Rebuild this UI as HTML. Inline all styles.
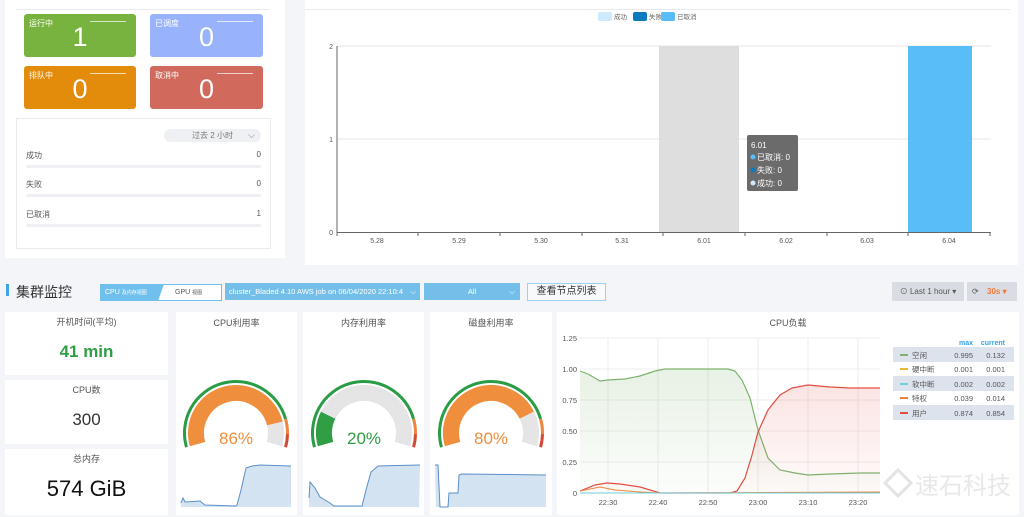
<!DOCTYPE html>
<html><head><meta charset="utf-8"><style>
body{margin:0;width:1024px;height:517px;background:#f3f5f8;font-family:"Liberation Sans","Noto Sans CJK SC",sans-serif;position:relative;overflow:hidden}
.a{position:absolute}
.card{position:absolute;color:#fff;border-radius:3px}
.card .t{position:absolute;left:5px;top:4px;font-size:8px}
.card .l{position:absolute;right:10px;top:7px;width:36px;height:1px;background:rgba(255,255,255,.7)}
.card .v{position:absolute;left:0;right:0;top:8px;text-align:center;font-size:27px}
.row{position:absolute;left:26px;width:235px;font-size:8px;color:#555}
.row .n{position:absolute;right:0;top:0}
.row .b{position:absolute;left:0;right:0;top:15px;height:3px;background:#eef0f3;border-radius:2px}
.p{position:absolute;background:#fff}
.pt{position:absolute;left:0;right:0;top:4px;text-align:center;font-size:9px;color:#555}
</style></head><body>
<div class="p" style="left:5px;top:0;width:280px;height:258px"></div>
<div class="a" style="left:16px;top:9px;width:254px;height:1px;background:#e8eaee"></div>
<div class="card" style="left:24px;top:14px;width:112px;height:43px;background:#79b33f"><div class="t">运行中</div><div class="l"></div><div class="v">1</div></div>
<div class="card" style="left:150px;top:14px;width:113px;height:43px;background:#98b3fc"><div class="t">已调度</div><div class="l"></div><div class="v">0</div></div>
<div class="card" style="left:24px;top:66px;width:112px;height:43px;background:#e38b0b"><div class="t">排队中</div><div class="l"></div><div class="v">0</div></div>
<div class="card" style="left:150px;top:66px;width:113px;height:43px;background:#d16a5c"><div class="t">取消中</div><div class="l"></div><div class="v">0</div></div>
<div class="a" style="left:16px;top:118px;width:253px;height:129px;border:1px solid #e8ebf0;background:#fff"></div>
<div class="a" style="left:164px;top:129px;width:97px;height:13px;background:#eef0f3;border-radius:7px;font-size:8px;color:#777;text-align:center;line-height:13px">过去 2 小时 <span style="position:absolute;right:6px;font-size:9px">⌵</span></div>
<div class="row" style="top:150px">成功<span class="n">0</span><div class="b"></div></div>
<div class="row" style="top:179px">失败<span class="n">0</span><div class="b"></div></div>
<div class="row" style="top:209px">已取消<span class="n">1</span><div class="b"></div></div>
<div class="p" style="left:305px;top:0;width:713px;height:265px"></div>
<div class="a" style="left:305px;top:9px;width:705px;height:1px;background:#e8eaee"></div>
<svg class="a" style="left:0;top:0" width="1024" height="270">
<g font-size="6.5" fill="#666">
<rect x="598" y="12" width="14" height="9" rx="2" fill="#cfeafe"/><text x="614" y="19">成功</text>
<rect x="633" y="12" width="14" height="9" rx="2" fill="#0a7bbf"/><text x="649" y="19">失败</text>
<rect x="661" y="12" width="14" height="9" rx="2" fill="#59bdf8"/><text x="677" y="19">已取消</text>
</g>
<line x1="337" y1="46" x2="991" y2="46" stroke="#e6e6e6"/>
<line x1="337" y1="139" x2="991" y2="139" stroke="#e6e6e6"/>
<rect x="659" y="46" width="80" height="186" fill="#dedede"/>
<rect x="908" y="46" width="64" height="186" fill="#59bdf8"/>
<line x1="337" y1="46" x2="337" y2="233" stroke="#666"/>
<line x1="337" y1="232.5" x2="991" y2="232.5" stroke="#666"/>
<g stroke="#666"><line x1="337" y1="233" x2="337" y2="236"/><line x1="418" y1="233" x2="418" y2="236"/><line x1="500" y1="233" x2="500" y2="236"/><line x1="582" y1="233" x2="582" y2="236"/><line x1="663" y1="233" x2="663" y2="236"/><line x1="745" y1="233" x2="745" y2="236"/><line x1="827" y1="233" x2="827" y2="236"/><line x1="908" y1="233" x2="908" y2="236"/><line x1="990" y1="233" x2="990" y2="236"/></g>
<g font-size="7" fill="#555" text-anchor="middle"><text x="377" y="243">5.28</text><text x="459" y="243">5.29</text><text x="541" y="243">5.30</text><text x="622" y="243">5.31</text><text x="704" y="243">6.01</text><text x="786" y="243">6.02</text><text x="867" y="243">6.03</text><text x="949" y="243">6.04</text></g>
<g font-size="7" fill="#555" text-anchor="end"><text x="333" y="49">2</text><text x="333" y="142">1</text><text x="333" y="235">0</text></g>
<rect x="747" y="135" width="51" height="56" rx="2" fill="#6b6b6b"/>
<g font-size="8" fill="#fff"><text x="751" y="148">6.01</text><text x="757" y="160">已取消: 0</text><text x="757" y="173">失败: 0</text><text x="757" y="186">成功: 0</text></g>
<circle cx="753" cy="157" r="2.5" fill="#59bdf8"/><circle cx="753" cy="170" r="2.5" fill="#0a7bbf"/><circle cx="753" cy="183" r="2.5" fill="#cfeafe"/>
</svg>
<div class="a" style="left:6px;top:284px;width:3px;height:12px;background:#3ea6e8"></div>
<div class="a" style="left:16px;top:282px;font-size:14px;color:#333">集群监控</div>
<div class="a" style="left:100px;top:284px;width:120px;height:15px;background:linear-gradient(110deg,#6fc0ec 50%,#fff 50%);border:1px solid #6fc0ec;font-size:7px;line-height:15px;white-space:nowrap"><span style="position:absolute;left:4px;color:#fff">CPU <span style="font-size:5px">及内存视图</span></span><span style="position:absolute;left:74px;color:#555">GPU <span style="font-size:5px">视图</span></span></div>
<div class="a" style="left:225px;top:283px;width:195px;height:17px;background:#74bfe9;color:#fff;font-size:7.5px;line-height:17px;padding-left:4px;box-sizing:border-box;white-space:nowrap;overflow:hidden">cluster_Bladed 4.10 AWS job on 06/04/2020 22:10:4<span style="position:absolute;right:4px">⌵</span></div>
<div class="a" style="left:424px;top:283px;width:96px;height:17px;background:#74bfe9;color:#fff;font-size:7.5px;line-height:17px;text-align:center">All<span style="position:absolute;right:5px">⌵</span></div>
<div class="a" style="left:527px;top:283px;width:77px;height:16px;border:1px solid #9fd0ee;background:#f7f9fb;font-size:10px;color:#333;text-align:center;line-height:16px">查看节点列表</div>
<div class="a" style="left:892px;top:282px;width:72px;height:19px;background:#d9dde3;font-size:8px;color:#555;line-height:19px;text-align:center">⊙ Last 1 hour ▾</div>
<div class="a" style="left:967px;top:282px;width:50px;height:19px;background:#d9dde3;font-size:8px;line-height:19px"><span style="position:absolute;left:5px;color:#555">⟳</span><span style="position:absolute;left:20px;color:#f07b39;font-weight:bold">30s ▾</span></div>
<div class="p" style="left:5px;top:312px;width:163px;height:63px"><div class="pt" style="top:3px">开机时间(平均)</div><div class="a" style="left:0;right:0;top:30px;text-align:center;font-size:17px;color:#2f9e44;font-weight:bold">41 min</div></div>
<div class="p" style="left:5px;top:380px;width:163px;height:64px"><div class="pt" style="top:3px">CPU数</div><div class="a" style="left:0;right:0;top:30px;text-align:center;font-size:17px;color:#333">300</div></div>
<div class="p" style="left:5px;top:449px;width:163px;height:66px"><div class="pt" style="top:3px">总内存</div><div class="a" style="left:0;right:0;top:27px;text-align:center;font-size:22px;color:#111">574 GiB</div></div>
<div class="p" style="left:176px;top:312px;width:121px;height:203px"><div class="pt">CPU利用率</div></div>
<div class="p" style="left:303px;top:312px;width:121px;height:203px"><div class="pt">内存利用率</div></div>
<div class="p" style="left:430px;top:312px;width:122px;height:203px"><div class="pt">磁盘利用率</div></div>
<div class="p" style="left:557px;top:312px;width:462px;height:203px"><div class="pt">CPU负载</div></div>
<svg id="g" class="a" style="left:0;top:0" width="1024" height="517"></svg>
<svg class="a" style="left:0;top:0" width="1024" height="517">
<defs><linearGradient id="gg" x1="0" y1="0" x2="0" y2="1"><stop offset="0" stop-color="#7eb26d" stop-opacity=".18"/><stop offset="1" stop-color="#7eb26d" stop-opacity=".02"/></linearGradient>
<linearGradient id="rg" x1="0" y1="0" x2="0" y2="1"><stop offset="0" stop-color="#e24d42" stop-opacity=".15"/><stop offset="1" stop-color="#e24d42" stop-opacity=".02"/></linearGradient></defs>
<g stroke="#ececec"><line x1="580" y1="338" x2="880" y2="338"/><line x1="580" y1="369" x2="880" y2="369"/><line x1="580" y1="400" x2="880" y2="400"/><line x1="580" y1="431" x2="880" y2="431"/><line x1="580" y1="462" x2="880" y2="462"/>
<line x1="608" y1="338" x2="608" y2="493"/><line x1="658" y1="338" x2="658" y2="493"/><line x1="708" y1="338" x2="708" y2="493"/><line x1="758" y1="338" x2="758" y2="493"/><line x1="808" y1="338" x2="808" y2="493"/><line x1="858" y1="338" x2="858" y2="493"/></g>
<path d="M580,371 L588,374 L600,381 L608,380 L625,379 L640,376 L655,371 L665,369 L728,369 L735,371 L742,380 L750,398 L758,430 L768,458 L780,470 L795,473 L808,475 L830,474 L860,473 L880,473 L880,493 L580,493Z" fill="url(#gg)"/>
<path d="M580,371 L588,374 L600,381 L608,380 L625,379 L640,376 L655,371 L665,369 L728,369 L735,371 L742,380 L750,398 L758,430 L768,458 L780,470 L795,473 L808,475 L830,474 L860,473 L880,473" fill="none" stroke="#7eb26d" stroke-width="1.2"/>
<path d="M580,491 L595,485 L607,483 L620,484 L640,487 L660,493 L730,493 L737,491 L745,478 L752,455 L758,432 L768,410 L780,395 L792,388 L808,385 L830,387 L850,388 L880,388 L880,493 L580,493Z" fill="url(#rg)"/>
<path d="M580,491 L595,485 L607,483 L620,484 L640,487 L660,493 L730,493 L737,491 L745,478 L752,455 L758,432 L768,410 L780,395 L792,388 L808,385 L830,387 L850,388 L880,388" fill="none" stroke="#e24d42" stroke-width="1.2"/>
<path d="M580,491 L600,487 L615,490 L640,492 L660,493 L880,492" fill="none" stroke="#ef843c" stroke-width="1"/>
<line x1="580" y1="493" x2="880" y2="493" stroke="#6ed0e0"/>
<g font-size="7.5" fill="#555" text-anchor="end"><text x="577" y="341">1.25</text><text x="577" y="372">1.00</text><text x="577" y="403">0.75</text><text x="577" y="434">0.50</text><text x="577" y="465">0.25</text><text x="577" y="496">0</text></g>
<g font-size="7.5" fill="#555" text-anchor="middle"><text x="608" y="505">22:30</text><text x="658" y="505">22:40</text><text x="708" y="505">22:50</text><text x="758" y="505">23:00</text><text x="808" y="505">23:10</text><text x="858" y="505">23:20</text></g>
<g font-size="7" font-weight="bold" fill="#33a2e5" text-anchor="end"><text x="973" y="345">max</text><text x="1005" y="345">current</text></g>
<rect x="893" y="347" width="121" height="15" fill="#dde3ec"/><rect x="893" y="376" width="121" height="15" fill="#dde3ec"/><rect x="893" y="405" width="121" height="15" fill="#dde3ec"/>
<g stroke-width="2"><line x1="900" y1="355" x2="908" y2="355" stroke="#7eb26d"/><line x1="900" y1="369" x2="908" y2="369" stroke="#eab839"/><line x1="900" y1="384" x2="908" y2="384" stroke="#6ed0e0"/><line x1="900" y1="398" x2="908" y2="398" stroke="#ef843c"/><line x1="900" y1="413" x2="908" y2="413" stroke="#e24d42"/></g>
<g font-size="7.5" fill="#555"><text x="912" y="358">空闲</text><text x="912" y="372">硬中断</text><text x="912" y="387">软中断</text><text x="912" y="401">特权</text><text x="912" y="416">用户</text></g>
<g font-size="7.5" fill="#555" text-anchor="end"><text x="973" y="358">0.995</text><text x="973" y="372">0.001</text><text x="973" y="387">0.002</text><text x="973" y="401">0.039</text><text x="973" y="416">0.874</text>
<text x="1005" y="358">0.132</text><text x="1005" y="372">0.001</text><text x="1005" y="387">0.002</text><text x="1005" y="401">0.014</text><text x="1005" y="416">0.854</text></g>
<g opacity=".8"><path d="M885,483 L898,470 L911,483 L898,496Z" fill="none" stroke="#ddd" stroke-width="3"/>
<text x="915" y="494" font-size="24" fill="#e3e3e3">速石科技</text></g>
</svg>
<script>
var s='';
function pt(cx,cy,r,a){a=a*Math.PI/180;return [cx+r*Math.cos(a),cy-r*Math.sin(a)];}
function arc(cx,cy,r,a0,a1,c,w){var p=pt(cx,cy,r,a0),q=pt(cx,cy,r,a1);var lg=(a0-a1)>180?1:0;
s+='<path d="M'+p[0]+','+p[1]+' A'+r+','+r+' 0 '+lg+' 1 '+q[0]+','+q[1]+'" fill="none" stroke="'+c+'" stroke-width="'+w+'"/>';}
function gauge(cx,cy,v,col,txt,spark){var A0=196,S=212,av=A0-S*v;
arc(cx,cy,51.5,A0,A0-S*0.85,'#299c46',3);arc(cx,cy,51.5,A0-S*0.85,A0-S*0.93,'#ef843c',3);arc(cx,cy,51.5,A0-S*0.93,A0-S,'#d44a3a',3);
arc(cx,cy,40,A0,av,col,16);arc(cx,cy,40,av,A0-S,'#e5e5e5',16);
s+='<text x="'+cx+'" y="'+(cy+11)+'" font-size="17" fill="'+col+'" text-anchor="middle" font-family="Liberation Sans,sans-serif">'+txt+'</text>';
s+='<path d="'+spark+' L'+(cx+55)+',507 L'+(cx-55)+',507Z" fill="#d3e3f2"/><path d="'+spark+'" fill="none" stroke="#5b8fc8" stroke-width="1"/>';}
gauge(236,433,0.86,'#ef8e3c','86%','M181,503 L183,498 L185,502 L200,501 L205,505 L236,506 L237,505 L241,490 L246,468 L252,466 L260,465 L291,466');
gauge(364,433,0.20,'#2f9e44','20%','M309,498 L310,482 L315,488 L320,497 L330,503 L334,506 L362,506 L366,490 L371,472 L378,466 L420,465');
gauge(491,433,0.80,'#ef8e3c','80%','M435,465 L438,465 L440,507 L448,507 L449,493 L458,493 L459,475 L462,474 L546,475');
document.getElementById('g').innerHTML=s;
</script>
</body></html>
